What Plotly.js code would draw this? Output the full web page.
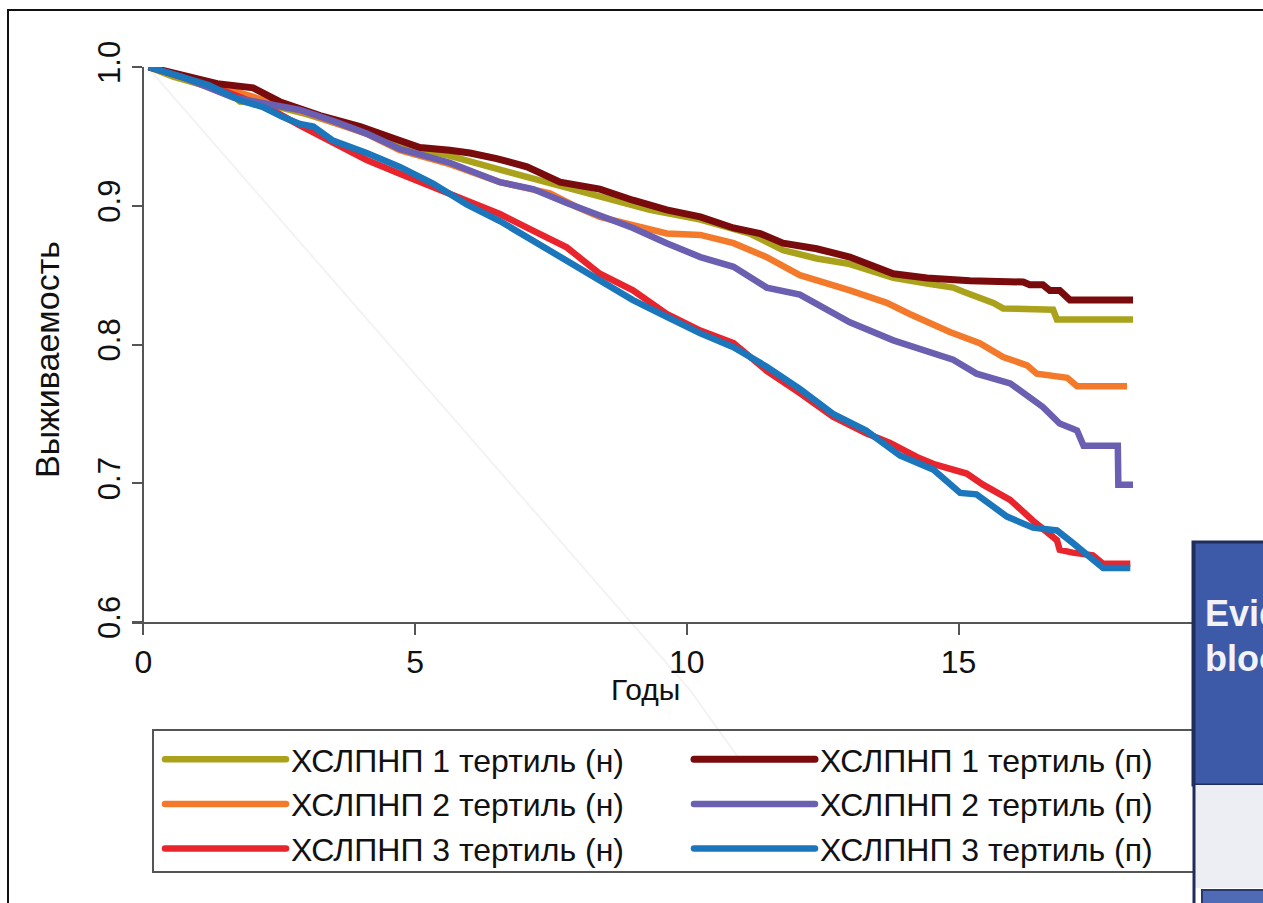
<!DOCTYPE html>
<html><head><meta charset="utf-8">
<script src="https://cdn.plot.ly/plotly-3.0.1.min.js"></script>
<style>html,body{margin:0;padding:0;background:#fff;} #chart{width:1263px;height:903px;}</style>
</head><body><div id="chart"></div>
<script>
// ---- data ----
const names = ["ХСЛПНП 1 тертиль (н)", "ХСЛПНП 2 тертиль (н)", "ХСЛПНП 3 тертиль (н)",
               "ХСЛПНП 1 тертиль (п)", "ХСЛПНП 2 тертиль (п)", "ХСЛПНП 3 тертиль (п)"];
const colors = ["#aba21c", "#f37a2b", "#e8242c", "#7a0b0d", "#6a5fb0", "#1b76bc"];
const legendRanks = [1, 3, 5, 2, 4, 6];

const n1x = [0.1,0.55,1.0,1.29,1.6,1.78,2.15,2.27,2.5,3.0,3.5,4.0,4.72,5.64,6.56,7.48,8.4,9.32,10.25,11.16,11.77,12.39,13.0,13.8,14.42,14.9,15.09,15.64,15.82,16.74,16.81,18.21];
const n1y = [1.0,0.993,0.988,0.985,0.981,0.975,0.974,0.975,0.971,0.966,0.960,0.954,0.944,0.936,0.926,0.916,0.907,0.897,0.890,0.880,0.868,0.862,0.858,0.848,0.844,0.841,0.838,0.830,0.826,0.825,0.818,0.818];

const n2x = [0.1,0.6,1.3,2.0,2.5,3.0,3.5,4.1,4.72,5.64,6.56,7.48,7.98,8.4,9.01,9.63,10.25,10.86,11.47,12.08,13.0,13.68,14.1,14.84,15.39,15.82,16.26,16.44,17.0,17.18,18.1];
const n2y = [1.0,0.994,0.987,0.979,0.973,0.967,0.960,0.952,0.940,0.930,0.917,0.909,0.899,0.892,0.886,0.880,0.879,0.873,0.863,0.850,0.839,0.830,0.822,0.809,0.801,0.791,0.785,0.779,0.776,0.770,0.770];

const n3x = [0.1,0.6,1.2,1.8,2.46,2.88,3.49,4.11,4.72,5.64,5.95,6.56,7.17,7.79,8.4,9.01,9.63,10.25,10.86,11.47,12.08,12.69,13.3,13.74,14.23,14.53,15.15,15.45,15.95,16.37,16.81,16.86,17.1,17.47,17.66,18.16];
const n3y = [1.0,0.994,0.987,0.978,0.967,0.958,0.945,0.933,0.923,0.909,0.904,0.894,0.882,0.870,0.851,0.839,0.822,0.810,0.801,0.781,0.765,0.748,0.736,0.729,0.719,0.714,0.707,0.699,0.688,0.673,0.659,0.652,0.650,0.648,0.642,0.642];

const p1x = [0.1,0.68,1.36,2.02,2.28,2.51,3.25,3.99,4.72,5.09,5.64,6.01,6.5,7.06,7.67,8.4,9.01,9.63,10.25,10.86,11.35,11.77,12.39,13.0,13.8,14.42,15.21,16.19,16.31,16.55,16.68,16.86,17.05,18.21];
const p1y = [1.0,0.994,0.988,0.985,0.980,0.975,0.965,0.957,0.947,0.942,0.940,0.938,0.934,0.928,0.917,0.912,0.904,0.897,0.892,0.884,0.880,0.873,0.869,0.863,0.851,0.848,0.846,0.845,0.843,0.843,0.839,0.839,0.832,0.832];

const p2x = [0.1,0.7,1.66,2.03,2.4,2.88,3.5,4.11,4.72,5.64,6.56,7.17,7.79,8.4,9.01,9.63,10.25,10.86,11.47,12.08,13.0,13.8,14.42,14.9,15.33,15.95,16.55,16.86,17.18,17.3,17.93,17.94,18.21];
const p2y = [1.0,0.993,0.978,0.975,0.972,0.969,0.961,0.952,0.941,0.931,0.917,0.912,0.902,0.893,0.884,0.873,0.863,0.856,0.841,0.836,0.816,0.803,0.795,0.789,0.779,0.772,0.755,0.743,0.738,0.727,0.727,0.699,0.699];

const p3x = [0.1,0.6,1.2,1.78,2.21,2.57,2.88,3.13,3.49,4.11,4.72,5.33,5.95,6.56,7.17,7.79,8.4,9.01,9.63,10.25,10.86,11.47,12.08,12.69,13.3,13.92,14.53,15.03,15.33,15.89,16.37,16.81,17.1,17.54,17.66,18.16];
const p3y = [1.0,0.994,0.987,0.976,0.971,0.964,0.959,0.957,0.947,0.938,0.928,0.916,0.901,0.889,0.875,0.861,0.846,0.832,0.820,0.808,0.798,0.784,0.768,0.750,0.738,0.720,0.710,0.693,0.692,0.676,0.668,0.666,0.657,0.642,0.639,0.639];

const xTicks = [0, 5, 10, 15];
const yTicks = [0.6, 0.7, 0.8, 0.9, 1.0];
const xTitle = "Годы";
const yTitle = "Выживаемость";

// ---- geometry helpers (pixel layout of the page) ----
const L = 132, R = 1195, T = 67, B = 622;
const px = p => (p - L) / (R - L);
const py = p => (B - p) / (B - T);

const xs = [n1x, n2x, n3x, p1x, p2x, p3x];
const ys = [n1y, n2y, n3y, p1y, p2y, p3y];
const traces = names.map((nm, i) => ({
  type: 'scatter', mode: 'lines', name: nm,
  x: xs[i], y: ys[i],
  line: {color: colors[i], width: i === 3 ? 7 : 6.5, shape: 'linear'},
  legendrank: legendRanks[i]
}));

const FONT = 'Liberation Sans, Arial, Helvetica, sans-serif';

const layout = {
  width: 1263, height: 903,
  margin: {l: L, r: 1263 - R, t: T, b: 903 - B},
  paper_bgcolor: '#fff', plot_bgcolor: 'rgba(0,0,0,0)',
  font: {family: FONT, color: '#111', size: 32},
  showlegend: true,
  xaxis: {
    range: [(L - 143.3) / 54.35, (R - 143.3) / 54.35],
    tickvals: xTicks, ticktext: xTicks.map(String),
    showgrid: false, zeroline: false,
    showline: true, linecolor: '#555', linewidth: 2,
    ticks: 'outside', ticklen: 11, tickwidth: 2, tickcolor: '#555',
    tickfont: {size: 32, family: FONT, color: '#111'}
  },
  yaxis: {
    range: [0.6, 1.0], anchor: 'free', position: px(143.3),
    tickvals: yTicks, ticktext: yTicks.map(v => v.toFixed(1)),
    showgrid: false, zeroline: false,
    showline: true, linecolor: '#555', linewidth: 2,
    ticks: 'outside', ticklen: 10, tickwidth: 2, tickcolor: '#555',
    tickangle: -90,
    tickfont: {size: 31, family: FONT, color: '#111'}
  },
  legend: {
    orientation: 'h', x: px(160), y: py(732), xanchor: 'left', yanchor: 'top',
    xref: 'paper', yref: 'paper',
    bgcolor: 'rgba(0,0,0,0)', borderwidth: 0,
    font: {size: 32, family: FONT, color: '#111'},
    itemwidth: 121, entrywidth: 393, entrywidthmode: 'pixels',
    traceorder: 'normal', tracegroupgap: 0
  },
  annotations: [
    {text: xTitle, xref: 'paper', yref: 'paper', x: px(645), y: py(689), showarrow: false,
     xanchor: 'center', yanchor: 'middle', font: {size: 30, family: FONT, color: '#111'}},
    {text: yTitle, xref: 'paper', yref: 'paper', x: px(47), y: py(360), showarrow: false,
     textangle: -90, xanchor: 'center', yanchor: 'middle', font: {size: 34, family: FONT, color: '#111'}},
    {text: '<b>Evid</b>', xref: 'paper', yref: 'paper', x: px(1203), y: py(613), showarrow: false,
     xanchor: 'left', yanchor: 'middle', font: {size: 36, family: FONT, color: '#f2f2f8'}},
    {text: '<b>bloo</b>', xref: 'paper', yref: 'paper', x: px(1203), y: py(658), showarrow: false,
     xanchor: 'left', yanchor: 'middle', font: {size: 36, family: FONT, color: '#f2f2f8'}}
  ],
  shapes: [
    // faint scan artefact line
    {type: 'path', xref: 'paper', yref: 'paper', layer: 'below',
     path: `M${px(150)},${py(70)} L${px(690)},${py(690)} L${px(740)},${py(760)}`,
     line: {color: '#f3f3f3', width: 2}},
    // legend frame
    {type: 'rect', xref: 'paper', yref: 'paper', layer: 'above',
     x0: px(153), x1: px(1215), y0: py(730), y1: py(872),
     line: {color: '#555', width: 2}, fillcolor: 'rgba(0,0,0,0)'},
    // slide fragment in the corner
    {type: 'rect', xref: 'paper', yref: 'paper', layer: 'above',
     x0: px(1193), x1: px(1275), y0: py(542), y1: py(785),
     line: {color: '#1f2d5c', width: 3}, fillcolor: '#3d5aa8'},
    {type: 'rect', xref: 'paper', yref: 'paper', layer: 'above',
     x0: px(1195), x1: px(1275), y0: py(785), y1: py(888),
     line: {width: 0}, fillcolor: '#eceef3'},
    {type: 'line', xref: 'paper', yref: 'paper', layer: 'above',
     x0: px(1194), x1: px(1194), y0: py(542), y1: py(910),
     line: {color: '#1f2d5c', width: 3}},
    {type: 'rect', xref: 'paper', yref: 'paper', layer: 'above',
     x0: px(1202), x1: px(1275), y0: py(890), y1: py(915),
     line: {color: '#27386e', width: 2}, fillcolor: '#4f6bb5'},
    // outer frame
    {type: 'rect', xref: 'paper', yref: 'paper', layer: 'above',
     x0: px(8), x1: px(1300), y0: py(10), y1: py(940),
     line: {color: '#111', width: 2}, fillcolor: 'rgba(0,0,0,0)'}
  ]
};

Plotly.newPlot('chart', traces, layout, {displayModeBar: false, staticPlot: true}).then(() => {
  document.querySelectorAll('.legendlines').forEach(p => {
    p.setAttribute('d', 'M5,0h106');
    p.style.strokeLinecap = 'round';
    p.style.strokeWidth = '7px';
  });
});
</script>
</body></html>
